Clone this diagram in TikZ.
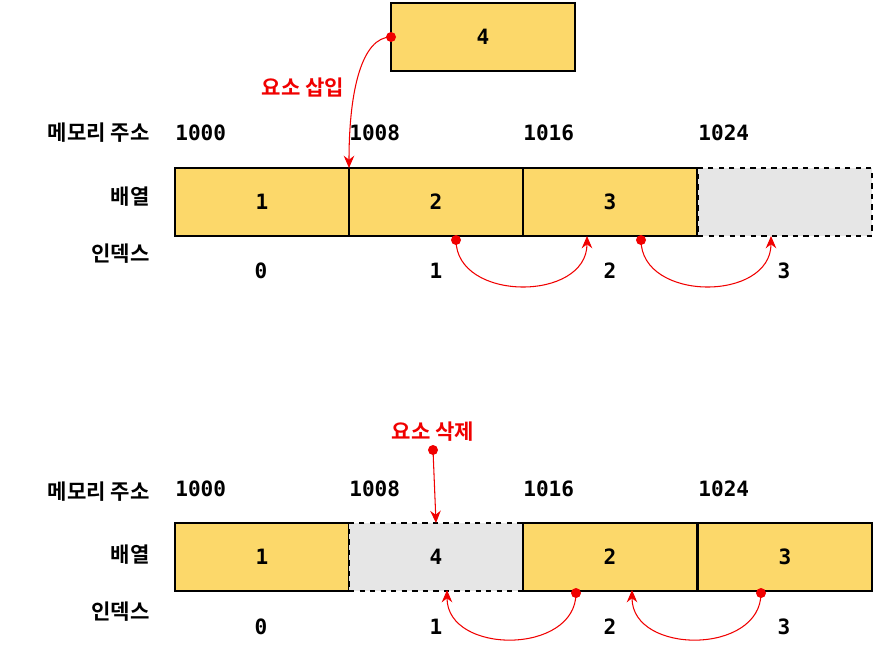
\documentclass[tikz,border=0pt]{standalone}
\usepackage{fontspec}
\newfontfamily\kr{Noto Sans CJK KR}[BoldFont={Noto Sans CJK KR Bold}]
\newfontfamily\num{DejaVu Sans Mono}
\usetikzlibrary{arrows.meta}
\definecolor{cellyellow}{HTML}{FCD86A}
\definecolor{cellgray}{HTML}{E6E6E6}
\definecolor{hotred}{HTML}{F00000}
\tikzset{
  cell/.style={draw, fill=cellyellow, line width=0.7pt, minimum width=3.48cm, minimum height=1.36cm, inner sep=0, outer sep=0, font=\num\bfseries\fontsize{12}{14}\selectfont},
  gone/.style={cell, fill=cellgray, dashed},
  addr/.style={anchor=west, inner sep=0, font=\num\bfseries\fontsize{12}{14}\selectfont},
  idx/.style={inner sep=0, font=\num\bfseries\fontsize{12}{14}\selectfont},
  lbl/.style={anchor=east, inner sep=0, font=\kr\bfseries\fontsize{12}{14}\selectfont},
  note/.style={inner sep=0, text=hotred, font=\kr\bfseries\fontsize{12}{14}\selectfont},
  move/.style={draw=hotred, line width=0.6pt, -{Stealth[length=7pt,width=6pt]}},
  dot/.style={fill=hotred, circle, inner sep=0, minimum size=0.2cm}
}
\begin{document}
\begin{tikzpicture}[x=0.02cm,y=-0.02cm]
\useasboundingbox (0,0) rectangle (884,660);

% upper: insert
\node[cell, minimum width=3.68cm] (new) at (483,37) {4};
\node[note] (ins) at (303,88) {요소 삽입};

\node[lbl] (mem1) at (150,133) {메모리 주소};
\node[lbl] (arr1) at (150,197) {배열};
\node[lbl] (ind1) at (150,254) {인덱스};

\node[cell] (a1) at (262,202) {1};
\node[cell] (a2) at (436,202) {2};
\node[cell] (a3) at (610,202) {3};
\node[gone] (a4) at (785,202) {};

\foreach \x/\t in {175/1000,349/1008,523/1016,698/1024}
  \node[addr] at (\x,133) {\t};
\foreach \x/\t in {261/0,436/1,610/2,784/3}
  \node[idx] at (\x,271) {\t};

\coordinate (s1) at (391,37);
\coordinate (e1) at (349,168);
\draw[move] (s1) .. controls (362,37) and (349,90) .. (e1);
\node[dot] at (s1) {};

\coordinate (s2) at (456,240);
\coordinate (e2) at (587,236);
\coordinate (s3) at (641,240);
\coordinate (e3) at (771,236);
\draw[move] (s2) .. controls (456,302) and (587,302) .. (e2);
\draw[move] (s3) .. controls (641,302) and (771,302) .. (e3);
\node[dot] at (s2) {};
\node[dot] at (s3) {};

% lower: delete
\node[note] (del) at (433,432) {요소 삭제};

\node[lbl] (mem2) at (150,492) {메모리 주소};
\node[lbl] (arr2) at (150,555) {배열};
\node[lbl] (ind2) at (150,612) {인덱스};

\node[cell] (b1) at (262,557) {1};
\node[gone] (b2) at (436,557) {4};
\node[cell] (b3) at (610,557) {2};
\node[cell] (b4) at (785,557) {3};

\foreach \x/\t in {175/1000,349/1008,523/1016,698/1024}
  \node[addr] at (\x,489) {\t};
\foreach \x/\t in {261/0,436/1,610/2,784/3}
  \node[idx] at (\x,627) {\t};

\coordinate (s4) at (433,450);
\draw[move] (s4) -- (b2.north);
\node[dot] at (s4) {};

\coordinate (s5) at (576,593);
\coordinate (e5) at (447,590);
\coordinate (s6) at (761,593);
\coordinate (e6) at (632,590);
\draw[move] (s5) .. controls (576,655) and (447,655) .. (e5);
\draw[move] (s6) .. controls (761,655) and (632,655) .. (e6);
\node[dot] at (s5) {};
\node[dot] at (s6) {};
\end{tikzpicture}
\end{document}
